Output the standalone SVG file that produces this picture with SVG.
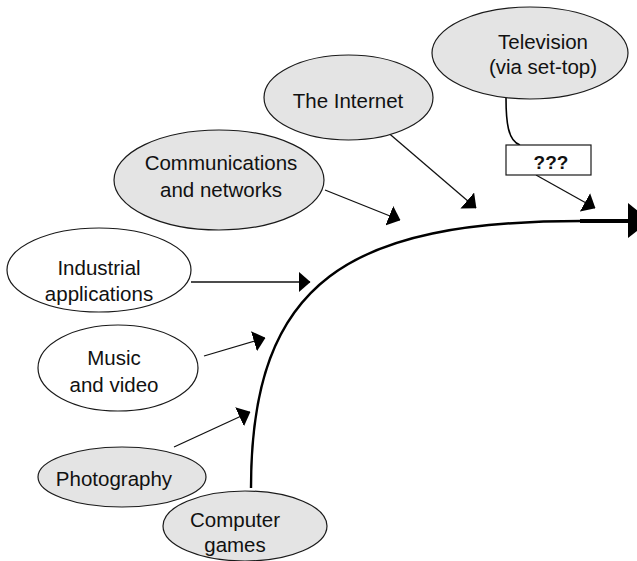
<svg xmlns="http://www.w3.org/2000/svg" width="637" height="561" viewBox="0 0 637 561">
  <style>
    .node ellipse { stroke: #1a1a1a; stroke-width: 1.2; }
    .grey { fill: #e4e4e4; }
    .white { fill: #ffffff; }
    text { font-family: "Liberation Sans", Arial, sans-serif; font-size: 20.5px; fill: #111; text-anchor: middle; }
    .conn { stroke: #111; stroke-width: 1.3; fill: none; }
  </style>
  <defs>
    <marker id="arrow" viewBox="0 0 12 21" refX="11.5" refY="10.5" markerWidth="12" markerHeight="21" markerUnits="userSpaceOnUse" orient="auto">
      <path d="M0,0 L12,10.5 L0,21 Z" fill="#000"/>
    </marker>
  </defs>
  <rect width="637" height="561" fill="#fff"/>

  <!-- connectors -->
  <g id="connectors">
    <!-- main growth curve -->
    <path d="M251,488 C251,280 350,221 582,221" stroke="#000" stroke-width="2.4" fill="none"/>
    <line x1="580" y1="221" x2="630" y2="221" stroke="#000" stroke-width="4"/>
    <path d="M628,203 L650,221 L628,238 Z" fill="#000"/>
    <!-- feeders -->
    <line class="conn" x1="191" y1="282" x2="310" y2="282" stroke="#333" style="stroke-width:1.6" marker-end="url(#arrow)"/>
    <line class="conn" x1="204" y1="356" x2="265" y2="338" marker-end="url(#arrow)"/>
    <line class="conn" x1="174" y1="447" x2="250" y2="412" marker-end="url(#arrow)"/>
    <line class="conn" x1="325" y1="190" x2="400" y2="220" marker-end="url(#arrow)"/>
    <line class="conn" x1="385" y1="130" x2="476" y2="208" marker-end="url(#arrow)"/>
    <line class="conn" x1="536" y1="175" x2="595" y2="208" marker-end="url(#arrow)"/>
    <path d="M506,98 C506,122 508,141 520,145" stroke="#000" stroke-width="1.6" fill="none"/>
  </g>

  <g id="television" class="node">
    <ellipse class="grey" cx="530" cy="53" rx="98" ry="46"/>
    <text x="543" y="49">Television</text>
    <text x="543" y="74">(via set-top)</text>
  </g>

  <g id="unknown">
    <rect x="506" y="145" width="85" height="30" fill="#fff" stroke="#1a1a1a" stroke-width="1.2"/>
    <text x="551" y="169" font-weight="bold" style="font-size:19px">???</text>
  </g>

  <g id="internet" class="node">
    <ellipse class="grey" cx="348.5" cy="97.5" rx="84.5" ry="42.5"/>
    <text x="348" y="108">The Internet</text>
  </g>

  <g id="communications" class="node">
    <ellipse class="grey" cx="219" cy="180" rx="105" ry="50"/>
    <text x="221" y="170">Communications</text>
    <text x="221" y="197">and networks</text>
  </g>

  <g id="industrial" class="node">
    <ellipse class="white" cx="99" cy="270" rx="92" ry="42"/>
    <text x="99" y="275">Industrial</text>
    <text x="99" y="301">applications</text>
  </g>

  <g id="music" class="node">
    <ellipse class="white" cx="118" cy="368" rx="80" ry="43"/>
    <text x="114" y="365">Music</text>
    <text x="114" y="392">and video</text>
  </g>

  <g id="photography" class="node">
    <ellipse class="grey" cx="122" cy="477" rx="84" ry="30"/>
    <text x="114" y="486">Photography</text>
  </g>

  <g id="games" class="node">
    <ellipse class="grey" cx="245" cy="526" rx="82" ry="35"/>
    <text x="235" y="527">Computer</text>
    <text x="235" y="552">games</text>
  </g>
</svg>
